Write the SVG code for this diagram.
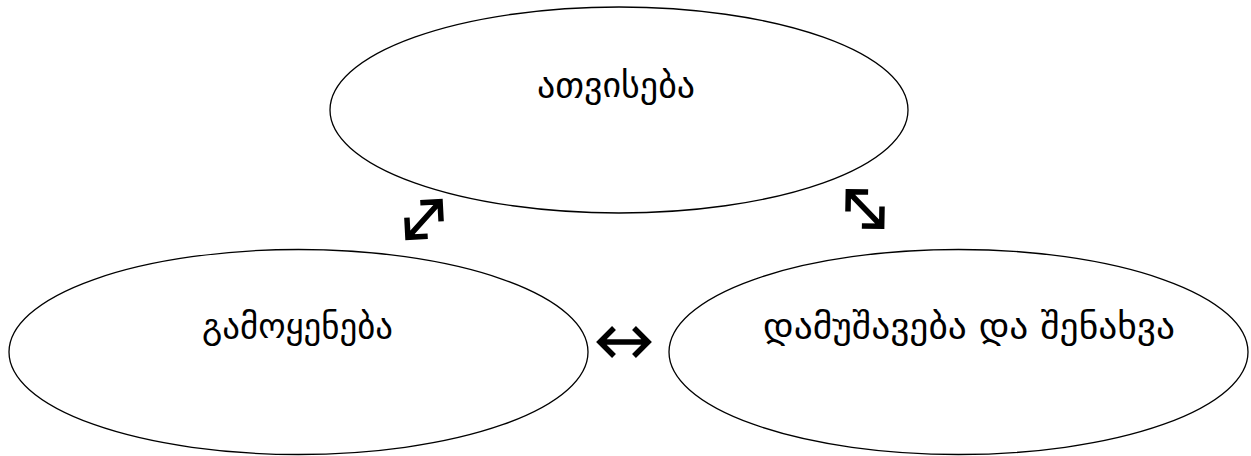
<svg xmlns="http://www.w3.org/2000/svg" xmlns:xlink="http://www.w3.org/1999/xlink" width="1251" height="456" viewBox="0 0 1251 456">
<style>
.node ellipse{fill:#fff;stroke:#000;stroke-width:1.3}
.node text{font-family:"DejaVu Sans","Noto Sans",sans-serif;font-size:34px;fill:#000;text-anchor:middle}
.arr{fill:none;stroke:#000;stroke-width:5.5;stroke-linejoin:miter;stroke-linecap:butt}
</style>
<defs>
<g id="dbl">
<path class="arr" d="M-24,0H24M-10,-14L-24,0L-10,14M10,-14L24,0L10,14"/>
</g>
</defs>
<rect width="1251" height="456" fill="#fff"/>
<g id="node-top" class="node">
<ellipse cx="619" cy="110" rx="289" ry="103"/>
<text x="616" y="97" textLength="158" lengthAdjust="spacingAndGlyphs">ათვისება</text>
</g>
<g id="node-left" class="node">
<ellipse cx="298.5" cy="352" rx="289.5" ry="102.5"/>
<text x="297.5" y="338" textLength="191" lengthAdjust="spacingAndGlyphs">გამოყენება</text>
</g>
<g id="node-right" class="node">
<ellipse cx="958.5" cy="352" rx="289.5" ry="102.5"/>
<text x="969" y="338" textLength="412" lengthAdjust="spacingAndGlyphs">დამუშავება და შენახვა</text>
</g>
<g id="connectors">
<use xlink:href="#dbl" transform="translate(624,342)"/>
<use xlink:href="#dbl" transform="translate(424,219.5) rotate(-48)"/>
<use xlink:href="#dbl" transform="translate(865,209) rotate(46)"/>
</g>
</svg>
